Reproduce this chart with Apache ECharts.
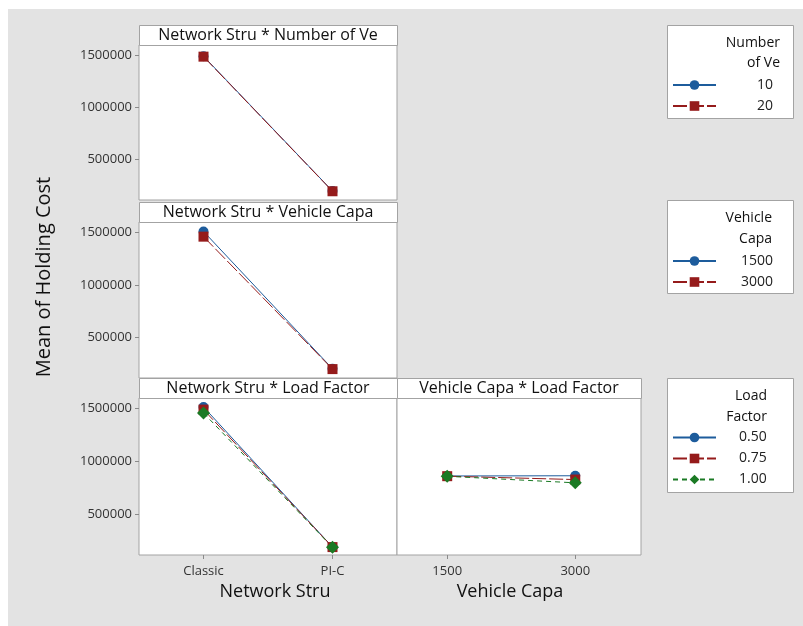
<!DOCTYPE html>
<html>
<head>
<meta charset="utf-8">
<script src="https://cdn.jsdelivr.net/npm/echarts@6/dist/echarts.min.js"></script>
<style>
  html, body { margin: 0; padding: 0; background: #ffffff; }
  #chart { width: 803px; height: 626px; }
</style>
</head>
<body>
<div id="chart"></div>
<script>
// Interaction plot for Mean of Holding Cost (data means)
const networkStru = ['Classic', 'PI-C'];
const vehicleCapa = [1500, 3000];
const yTicks = [500000, 1000000, 1500000];

// Network Stru * Number of Ve
const numVeLevels = ['10', '20'];
const costNumVe10 = [1492000, 196000];
const costNumVe20 = [1488000, 194000];

// Network Stru * Vehicle Capa
const capaLevels = ['1500', '3000'];
const costCapa1500 = [1510000, 198000];
const costCapa3000 = [1460000, 195000];

// Network Stru * Load Factor
const loadLevels = ['0.50', '0.75', '1.00'];
const costLoad050 = [1515000, 185000];
const costLoad075 = [1490000, 185000];
const costLoad100 = [1458000, 183000];

// Vehicle Capa * Load Factor
const costCapaLoad050 = [860000, 862000];
const costCapaLoad075 = [858000, 826000];
const costCapaLoad100 = [857000, 795000];

const panelTitles = [
  'Network Stru * Number of Ve',
  'Network Stru * Vehicle Capa',
  'Network Stru * Load Factor',
  'Vehicle Capa * Load Factor'
];
const legendTitles = [['Number', 'of Ve'], ['Vehicle', 'Capa'], ['Load', 'Factor']];

const FONT = '"Open Sans", "Noto Sans", sans-serif';
const BLUE = '#1d5c9c';
const RED = '#951b1b';
const GREEN = '#1b7a24';
const BORDER = '#a3a3a3';
const TEXT = '#333333';

// panel rectangles: plot area + title strip above it
const panels = [
  { left: 139, top: 45, width: 258, height: 155, strip: 20 },
  { left: 139, top: 222, width: 258, height: 156, strip: 20 },
  { left: 139, top: 398, width: 258, height: 157, strip: 20 },
  { left: 397, top: 398, width: 244, height: 157, strip: 20 }
];

const Y_MIN = 110000, Y_MAX = 1600000;

const styles = {
  blue: { color: BLUE, symbol: 'circle', symbolSize: 10, lineStyle: { color: BLUE, width: 1, type: 'solid' } },
  red: { color: RED, symbol: 'rect', symbolSize: 10, lineStyle: { color: RED, width: 1, type: [14, 3] } },
  green: { color: GREEN, symbol: 'diamond', symbolSize: 13, lineStyle: { color: GREEN, width: 1, type: [5, 4] } }
};

function lineSeries(name, idx, data, st) {
  return {
    type: 'line', name: name, xAxisIndex: idx, yAxisIndex: idx,
    data: data, symbol: st.symbol, symbolSize: st.symbolSize,
    itemStyle: { color: st.color }, lineStyle: st.lineStyle,
    emphasis: { disabled: true }, animation: false, z: 3
  };
}
function pairs(xs, ys) { return xs.map((x, i) => [x, ys[i]]); }

const series = [
  lineSeries(numVeLevels[0], 0, costNumVe10, styles.blue),
  lineSeries(numVeLevels[1], 0, costNumVe20, styles.red),
  lineSeries(capaLevels[0], 1, costCapa1500, styles.blue),
  lineSeries(capaLevels[1], 1, costCapa3000, styles.red),
  lineSeries(loadLevels[0], 2, costLoad050, styles.blue),
  lineSeries(loadLevels[1], 2, costLoad075, styles.red),
  lineSeries(loadLevels[2], 2, costLoad100, styles.green),
  lineSeries(loadLevels[0], 3, pairs(vehicleCapa, costCapaLoad050), styles.blue),
  lineSeries(loadLevels[1], 3, pairs(vehicleCapa, costCapaLoad075), styles.red),
  lineSeries(loadLevels[2], 3, pairs(vehicleCapa, costCapaLoad100), styles.green)
];

const grids = panels.map(p => ({
  left: p.left, top: p.top, width: p.width, height: p.height,
  show: true, backgroundColor: '#ffffff', borderColor: BORDER, borderWidth: 1
}));

const tickLabel = { color: TEXT, fontFamily: FONT, fontSize: 13 };

const yAxes = panels.map((p, i) => ({
  type: 'value', gridIndex: i, min: Y_MIN, max: Y_MAX,
  splitLine: { show: false }, axisLine: { show: false },
  axisTick: { show: i < 3, inside: false, length: 4, lineStyle: { color: '#8a8a8a' }, customValues: yTicks },
  axisLabel: { show: i < 3, margin: 7, customValues: yTicks, formatter: v => String(v), ...tickLabel }
}));

const nameStyle = { color: '#111111', fontFamily: FONT, fontSize: 18 };

const xAxes = [
  { type: 'category', gridIndex: 0, data: networkStru, boundaryGap: true,
    axisLine: { show: false }, axisTick: { show: false }, axisLabel: { show: false } },
  { type: 'category', gridIndex: 1, data: networkStru, boundaryGap: true,
    axisLine: { show: false }, axisTick: { show: false }, axisLabel: { show: false } },
  { type: 'category', gridIndex: 2, data: networkStru, boundaryGap: true,
    axisLine: { show: false },
    axisTick: { show: true, alignWithLabel: true, length: 4, lineStyle: { color: '#8a8a8a' } },
    axisLabel: { margin: 10, ...tickLabel },
    name: 'Network Stru', nameLocation: 'middle', nameGap: 28,
    nameTextStyle: { ...nameStyle, padding: [0, 0, 0, 14] } },
  { type: 'value', gridIndex: 3, min: 912, max: 3770,
    splitLine: { show: false }, axisLine: { show: false },
    axisTick: { show: true, length: 4, lineStyle: { color: '#8a8a8a' }, customValues: vehicleCapa },
    axisLabel: { margin: 10, customValues: vehicleCapa, formatter: v => String(v), ...tickLabel },
    name: 'Vehicle Capa', nameLocation: 'middle', nameGap: 28,
    nameTextStyle: { ...nameStyle, padding: [0, 18, 0, 0] } }
];

// legend groups: box, two-line heading, entries
const legendBoxes = [
  { top: 25, bottom: 118, titleY: [42.7, 63.5], titleRight: 780, itemsTop: 78, pad: 36, names: numVeLevels },
  { top: 200, bottom: 293, titleY: [218.5, 239.5], titleRight: 772, itemsTop: 254, pad: 20, names: capaLevels },
  { top: 378, bottom: 492, titleY: [395.7, 416.7], titleRight: 767, itemsTop: 430.5, pad: 18, names: loadLevels }
];

const legends = legendBoxes.map(b => ({
  show: true, orient: 'vertical', left: 672, top: b.itemsTop, padding: 0,
  itemWidth: 43, itemHeight: 12, itemGap: 7, selectedMode: false,
  data: b.names,
  formatter: n => '{t|' + n + '}',
  textStyle: { color: TEXT, fontFamily: FONT, fontSize: 14,
    rich: { t: { padding: [0, 0, 0, b.pad], fontFamily: FONT, fontSize: 14, color: '#222222', lineHeight: 14 } } }
}));

const graphic = [
  { type: 'rect', shape: { x: 8, y: 9, width: 803, height: 626 }, style: { fill: '#e3e3e3' }, z: -10, silent: true }
];
panels.forEach((p, i) => {
  graphic.push({ type: 'rect', z: 1, silent: true,
    shape: { x: p.left + 0.5, y: p.top - p.strip + 0.5, width: p.width, height: p.strip },
    style: { fill: '#ffffff', stroke: BORDER, lineWidth: 1 } });
  graphic.push({ type: 'text', z: 2, silent: true,
    x: p.left + p.width / 2, y: p.top - p.strip / 2 + 0.5,
    style: { text: panelTitles[i], fill: '#111111', font: '16px ' + FONT, align: 'center', verticalAlign: 'middle' } });
});
legendBoxes.forEach((b, i) => {
  graphic.push({ type: 'rect', z: 0, silent: true,
    shape: { x: 667.5, y: b.top + 0.5, width: 126, height: b.bottom - b.top },
    style: { fill: '#ffffff', stroke: BORDER, lineWidth: 1 } });
  legendTitles[i].forEach((line, k) => {
    graphic.push({ type: 'text', z: 2, silent: true, x: b.titleRight, y: b.titleY[k],
      style: { text: line, fill: '#111111', font: '14px ' + FONT, align: 'right', verticalAlign: 'middle' } });
  });
});
graphic.push({ type: 'text', z: 2, silent: true, x: 44, y: 277, rotation: Math.PI / 2,
  style: { text: 'Mean of Holding Cost', fill: '#111111', font: '20px ' + FONT, align: 'center', verticalAlign: 'middle' } });

const chart = echarts.init(document.getElementById('chart'), null, { renderer: 'canvas' });
chart.setOption({
  backgroundColor: '#ffffff',
  animation: false,
  grid: grids,
  xAxis: xAxes,
  yAxis: yAxes,
  legend: legends,
  graphic: graphic,
  series: series
});
</script>
</body>
</html>
